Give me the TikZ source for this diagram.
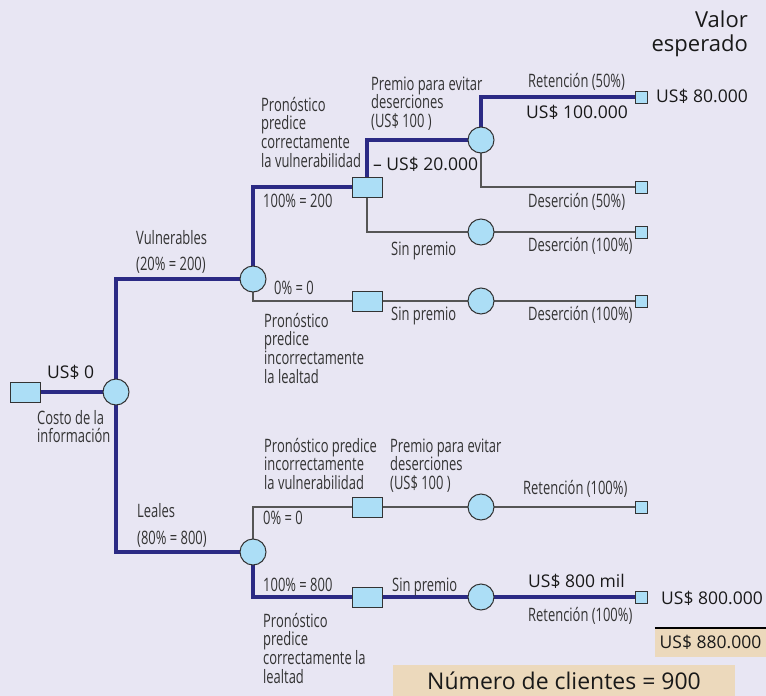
\documentclass[tikz,border=0pt]{standalone}
\usepackage{fontspec}
\setmainfont{Open Sans}
\newfontfamily\condf[FakeStretch=0.7]{Open Sans}
\usetikzlibrary{backgrounds}
\definecolor{bgcol}{RGB}{232,230,243}
\definecolor{nodecol}{RGB}{172,222,246}
\definecolor{bestcol}{RGB}{43,42,132}
\definecolor{thincol}{RGB}{85,85,85}
\definecolor{sumcol}{RGB}{236,217,188}
\newcommand\topstrut[1]{\rule{0pt}{#1pt}}
\tikzset{
  chance/.style={circle,draw=black!80,fill=nodecol,minimum size=26pt,inner sep=0pt,line width=1pt},
  choice/.style={rectangle,draw=black!80,fill=nodecol,minimum width=30pt,minimum height=20pt,inner sep=0pt,line width=1pt},
  leaf/.style={rectangle,draw=black!80,fill=nodecol,minimum size=12pt,inner sep=0pt,line width=1pt},
  best/.style={draw=bestcol,line width=4pt},
  other/.style={draw=thincol,line width=1.3pt},
  lbl/.style={font=\condf\fontsize{18.5}{18.7}\selectfont,align=left,anchor=base west,inner sep=0pt,text=black!80},
  lbls/.style={lbl,anchor=north west},
  val/.style={font=\fontsize{17.5}{23}\selectfont,anchor=base west,inner sep=0pt,text=black!90},
  sumbox/.style={fill=sumcol,inner sep=0pt,text=black!90}
}
\begin{document}
\begin{tikzpicture}[x=1pt,y=-1pt]
    \useasboundingbox (0,0) rectangle (766,696);
    \node[choice] (d0) at (25,392) {};
    \node[chance] (c0) at (116,392) {};
    \node[chance] (cv) at (253,279) {};
    \node[chance] (cl) at (253,552) {};
    \node[choice] (dv) at (367,187) {};
    \node[choice] (dvi) at (367,301) {};
    \node[choice] (dli) at (367,507) {};
    \node[choice] (dl) at (367,597) {};
    \node[chance] (cp) at (481,140) {};
    \node[chance] (cs) at (481,232) {};
    \node[chance] (csi) at (481,301) {};
    \node[chance] (cpi) at (481,507) {};
    \node[chance] (csl) at (481,597) {};
    \node[leaf] (l1) at (641,97) {};
    \node[leaf] (l2) at (641,187) {};
    \node[leaf] (l3) at (641,232) {};
    \node[leaf] (l4) at (641,301) {};
    \node[leaf] (l5) at (641,507) {};
    \node[leaf] (l6) at (641,597) {};

    \begin{scope}[on background layer]
        \fill[bgcol] (0,0) rectangle (766,696);
        \draw[best] (d0.center) -- (c0.center);
        \draw[best] (c0.center) |- (cv.center);
        \draw[best] (c0.center) |- (cl.center);
        \draw[best] (cv.center) |- (dv.center);
        \draw[other] (cv.center) |- (dvi.center);
        \draw[best] (dv.center) |- (cp.center);
        \draw[other] (dv.center) |- (cs.center);
        \draw[best] (cp.center) |- (l1.center);
        \draw[other] (cp.center) |- (l2.center);
        \draw[other] (cs.center) -- (l3.center);
        \draw[other] (dvi.center) -- (csi.center) -- (l4.center);
        \draw[other] (cl.center) |- (dli.center);
        \draw[other] (dli.center) -- (cpi.center) -- (l5.center);
        \draw[best] (cl.center) |- (dl.center);
        \draw[best] (dl.center) -- (csl.center) -- (l6.center);
    \end{scope}

    \node[val,font=\fontsize{22}{24}\selectfont,anchor=north east,align=right] (head) at (748,10) {\topstrut{17}Valor\\esperado};
    \node[val] (v1) at (656,102) {US\$ 80.000};
    \node[val] (v2) at (526,118) {US\$ 100.000};
    \node[val] (v3) at (373,170) {– US\$ 20.000};
    \node[val] (v4) at (47,378) {US\$ 0};
    \node[val] (v5) at (528,587) {US\$ 800 mil};
    \node[val] (v6) at (661,604) {US\$ 800.000};

    \node[lbls] (t1) at (261,96) {\topstrut{15}Pronóstico\\predice\\correctamente\\la vulnerabilidad};
    \node[lbls] (t2) at (371,75) {\topstrut{15}Premio para evitar\\deserciones\\(US\$ 100 )};
    \node[lbl] (t3) at (528,87) {Retención (50\%)};
    \node[lbl] (t4) at (263,207) {100\% = 200};
    \node[lbl] (t5) at (528,207) {Deserción (50\%)};
    \node[lbls] (t6) at (136,229) {\topstrut{15}Vulnerables\\[8pt](20\% = 200)};
    \node[lbl] (t7) at (391,255) {Sin premio};
    \node[lbl] (t8) at (528,251) {Deserción (100\%)};
    \node[lbl] (t9) at (274,294) {0\% = 0};
    \node[lbl] (t10) at (391,320) {Sin premio};
    \node[lbl] (t11) at (528,320) {Deserción (100\%)};
    \node[lbls] (t12) at (264,312) {\topstrut{15}Pronóstico\\predice\\incorrectamente\\la lealtad};
    \node[lbls] (t13) at (37,409) {\topstrut{15}Costo de la\\información};
    \node[lbls] (t14) at (264,437) {\topstrut{15}Pronóstico predice\\incorrectamente\\la vulnerabilidad};
    \node[lbls] (t15) at (390,437) {\topstrut{15}Premio para evitar\\deserciones\\(US\$ 100 )};
    \node[lbl] (t16) at (523,494) {Retención (100\%)};
    \node[lbls] (t17) at (137,502) {\topstrut{15}Leales\\[9pt](80\% = 800)};
    \node[lbl] (t18) at (263,524) {0\% = 0};
    \node[lbl] (t19) at (263,591) {100\% = 800};
    \node[lbl] (t20) at (392,591) {Sin premio};
    \node[lbl] (t21) at (528,621) {Retención (100\%)};
    \node[lbls] (t22) at (263,612) {\topstrut{15}Pronóstico\\predice\\correctamente la\\lealtad};

    \node[sumbox,font=\fontsize{17.5}{20}\selectfont,minimum width=111pt,minimum height=29pt] (tot) at (710.5,642.5) {US\$ 880.000};
    \draw[line width=2pt] (tot.north west) -- (tot.north east);
    \node[sumbox,font=\fontsize{23}{25}\selectfont,minimum width=342pt,minimum height=31pt] (n) at (564,680.5) {Número de clientes = 900};
\end{tikzpicture}
\end{document}
